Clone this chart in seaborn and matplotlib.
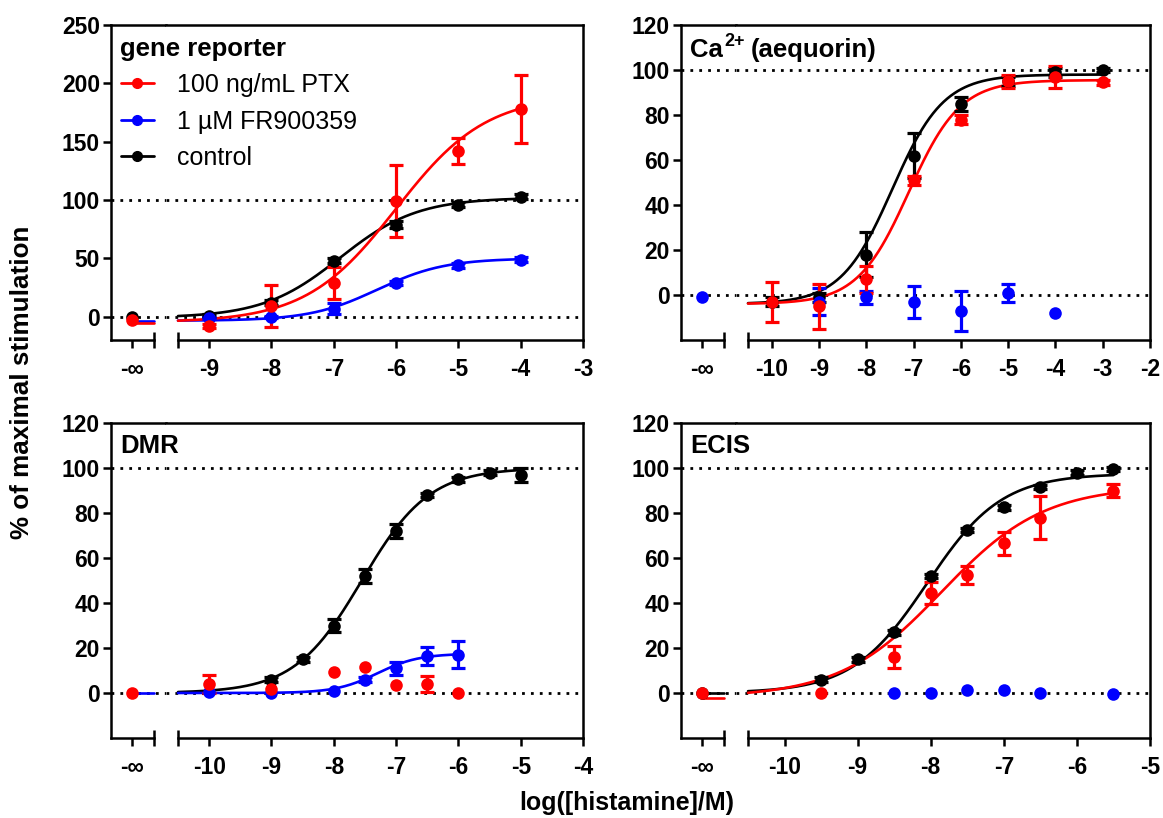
import numpy as np
import pandas as pd
import seaborn as sns
import matplotlib.pyplot as plt
from matplotlib.lines import Line2D

# ---------------- data ----------------
# gene reporter
gr_x = [-9, -8, -7, -6, -5, -4]
gr_ctrl = [1, 12, 48, 79, 96, 103]
gr_ctrl_err = [1, 2, 2, 3, 2, 2]
gr_ptx = [-8, 9, 29, 99, 142, 178]
gr_ptx_err = [2, 18, 14, 31, 11, 29]
gr_fr = [-1, 0, 7, 29, 44, 49]
gr_fr_err = [1, 1, 5, 2, 2, 2]
gr_inf = [0, -3]            # control, PTX at -inf
gr_ctrl_fit = [-1, 102, -6.9, 0.7]     # bottom, top, logEC50, hill
gr_ptx_fit = [-5, 190, -6.0, 0.6]
gr_fr_fit = [-3.5, 50, -6.3, 0.8]

# Ca2+ (aequorin)
ca_x = [-10, -9, -8, -7, -6, -5, -4, -3]
ca_ctrl = [-3, -1, 18, 62, 85, 95, 99, 100]
ca_ctrl_err = [2, 2, 10, 10, 3, 2, 2, 1]
ca_ptx = [-3, -5, 7, 51, 78, 95, 97, 94.5]
ca_ptx_err = [9, 10, 6, 2, 2, 3, 5, 1]
ca_fr_x = [-9, -8, -7, -6, -5, -4]
ca_fr = [-3, -1, -3, -7, 1, -8]
ca_fr_err = [6, 3, 7, 9, 4, 0]
ca_inf = [-1]               # FR at -inf
ca_ctrl_fit = [-4, 98, -7.45, 0.8]
ca_ptx_fit = [-4, 95.5, -7.1, 0.8]

# DMR
dmr_ctrl_x = [-9, -8.5, -8, -7.5, -7, -6.5, -6, -5.5, -5]
dmr_ctrl = [6, 15, 30, 52, 72, 88, 95, 98, 97]
dmr_ctrl_err = [1, 1, 3, 3, 3, 1, 1, 1, 3]
dmr_x = [-10, -9, -8, -7.5, -7, -6.5, -6]
dmr_fr = [0.5, 0, 1, 6, 11, 16.5, 17]
dmr_fr_err = [0, 0, 0, 1, 3, 4, 6]
dmr_ptx = [4, 2, 9.5, 11.5, 3.5, 4, 0]
dmr_ptx_err = [4, 0, 0, 0, 0, 3.5, 0]
dmr_inf = [0]               # PTX at -inf
dmr_ctrl_fit = [0, 100, -7.55, 0.8]
dmr_fr_fit = [0, 17.5, -7.3, 1.3]

# ECIS
ecis_ctrl_x = [-9.5, -9, -8.5, -8, -7.5, -7, -6.5, -6, -5.5]
ecis_ctrl = [6, 15, 27, 52, 72.5, 82.5, 91.5, 98, 99.5]
ecis_ctrl_err = [1, 1, 1, 1, 1, 1, 1, 1, 1]
ecis_ptx_x = [-9.5, -8.5, -8, -7.5, -7, -6.5, -5.5]
ecis_ptx = [0, 16, 44.5, 52.5, 66.5, 78, 90]
ecis_ptx_err = [0, 5, 5, 4, 5, 9.5, 3]
ecis_fr_x = [-8.5, -8, -7.5, -7, -6.5, -5.5]
ecis_fr = [-0.2, 0, 1.5, 1.2, 0, -0.5]
ecis_inf = [0, 0]           # control, PTX at -inf
ecis_ctrl_fit = [0, 97.5, -8.05, 0.85]
ecis_ptx_fit = [-2, 92, -7.85, 0.62]

legend_labels = ['100 ng/mL PTX', '1 µM FR900359', 'control']
titles = ['gene reporter', 'Ca', 'DMR', 'ECIS']

# ---------------- style ----------------
sns.set_theme(style='ticks')
plt.rcParams['font.family'] = ['Liberation Sans', 'DejaVu Sans']
plt.rcParams['font.weight'] = 'bold'
plt.rcParams['text.color'] = 'black'

RED, BLUE, BLACK = '#ff0000', '#0000ff', '#000000'
W, H = 1163, 818
LW_SPINE = 1.8
LW_CURVE = 1.9
DOTTED = (0, (1, 2.2))

fig = plt.figure(figsize=(W / 100, H / 100), dpi=100)


def px_axes(left, right, top, bottom):
    return fig.add_axes([left / W, 1 - bottom / H, (right - left) / W, (bottom - top) / H])


def px_text(x, y, s, **kw):
    return fig.text(x / W, 1 - y / H, s, fontweight='bold', **kw)


def logistic(x, fit):
    bottom, top, ec50, hill = fit
    return bottom + (top - bottom) / (1 + 10 ** ((ec50 - x) * hill))


def draw_panel(L, R, T, B, x0, x1, ylim, yticks, series, title, title_dy):
    gap = L + 55
    ax_inf = px_axes(L, gap, T, B)
    ax = px_axes(gap, R, T, B)
    scale = (R - (L + 67)) / (x1 - x0)
    ax.set_xlim(x0 - 12 / scale, x1)
    ax_inf.set_xlim(0, 55)
    for a in (ax_inf, ax):
        a.set_ylim(ylim)
        a.set_facecolor('white')
        for ref in (0, 100):
            a.axhline(ref, color='black', ls=DOTTED, lw=2.0, zorder=1)
        for sp in a.spines.values():
            sp.set_visible(True)
            sp.set_linewidth(LW_SPINE)
            sp.set_color('black')
            sp.set_zorder(5)
    ax_inf.spines['right'].set_visible(False)
    ax.spines['left'].set_visible(False)
    ax_inf.spines['bottom'].set_bounds(0, 43)
    ax.spines['bottom'].set_bounds(x0, x1)

    # ticks
    ax_inf.set_yticks(yticks)
    ax_inf.set_xticks([21])
    ax_inf.set_xticklabels(['-∞'])
    ax_inf.set_xticks([43], minor=True)
    ticks = np.arange(np.ceil(x0), x1 + 0.1, 1)
    ax.set_xticks(ticks)
    ax.set_xticklabels([f'{int(v)}' for v in ticks])
    ax.set_xticks([x0], minor=True)
    ax.tick_params(axis='y', left=False, labelleft=False)
    for a in (ax_inf, ax):
        a.tick_params(axis='both', which='major', direction='out', length=6,
                      width=LW_SPINE, labelsize=16.5, color='black', labelcolor='black')
        a.tick_params(axis='x', which='major', pad=7)
        a.tick_params(axis='y', which='major', pad=2)
        a.tick_params(axis='x', which='minor', direction='inout', length=12,
                      width=LW_SPINE, color='black')
        a.tick_params(axis='y', which='minor', left=False)

    for color, xs, ys, errs, inf_val, fit, stub in series:
        if fit is not None:
            cx = np.linspace(x0, max(xs), 300)
            curve = pd.DataFrame({'x': cx, 'y': logistic(cx, fit)})
            sns.lineplot(data=curve, x='x', y='y', color=color, lw=LW_CURVE, ax=ax, zorder=2)
            if stub:
                ax_inf.plot([21, 43], [fit[0], fit[0]], color=color, lw=LW_CURVE, zorder=2)
        pts = pd.DataFrame({'x': xs, 'y': ys, 'err': errs})
        eb = pts[pts['err'] > 0]
        if len(eb):
            ax.errorbar(eb['x'], eb['y'], yerr=eb['err'], fmt='none', ecolor=color,
                        elinewidth=2.3, capsize=4.7, capthick=2.3, zorder=3)
        sns.scatterplot(data=pts, x='x', y='y', color=color, s=82, linewidth=0,
                        ax=ax, zorder=4, legend=False)
        if inf_val is not None:
            ax_inf.scatter([21], [inf_val], color=color, s=82, linewidth=0, zorder=4)
    for a in (ax_inf, ax):
        a.set_xlabel('')
        a.set_ylabel('')
    px_text(L + 9, T + title_dy, title, fontsize=18.5, ha='left', va='baseline')
    return ax_inf, ax


draw_panel(111, 583, 25, 340, -9.5, -3, (-20, 250), np.arange(0, 251, 50), [
    (BLACK, gr_x, gr_ctrl, gr_ctrl_err, gr_inf[0], gr_ctrl_fit, False),
    (BLUE, gr_x, gr_fr, gr_fr_err, None, gr_fr_fit, True),
    (RED, gr_x, gr_ptx, gr_ptx_err, gr_inf[1], gr_ptx_fit, True),
], titles[0], 31)

draw_panel(681, 1150, 25, 340, -10.5, -2, (-20, 120), np.arange(0, 121, 20), [
    (BLACK, ca_x, ca_ctrl, ca_ctrl_err, None, ca_ctrl_fit, False),
    (BLUE, ca_fr_x, ca_fr, ca_fr_err, ca_inf[0], None, False),
    (RED, ca_x, ca_ptx, ca_ptx_err, None, ca_ptx_fit, False),
], titles[1], 32)
# superscript charge and the rest of the Ca2+ title
px_text(724, 46, '2+', fontsize=13, ha='left', va='baseline')
px_text(751, 57, '(aequorin)', fontsize=18.5, ha='left', va='baseline')

draw_panel(111, 583, 423, 738, -10.5, -4, (-20, 120), np.arange(0, 121, 20), [
    (BLACK, dmr_ctrl_x, dmr_ctrl, dmr_ctrl_err, None, dmr_ctrl_fit, False),
    (BLUE, dmr_x, dmr_fr, dmr_fr_err, None, dmr_fr_fit, True),
    (RED, dmr_x, dmr_ptx, dmr_ptx_err, dmr_inf[0], None, False),
], titles[2], 30)

draw_panel(681, 1150, 423, 738, -10.5, -5, (-20, 120), np.arange(0, 121, 20), [
    (BLACK, ecis_ctrl_x, ecis_ctrl, ecis_ctrl_err, ecis_inf[0], ecis_ctrl_fit, True),
    (BLUE, ecis_fr_x, ecis_fr, [0] * len(ecis_fr), None, None, False),
    (RED, ecis_ptx_x, ecis_ptx, ecis_ptx_err, ecis_inf[1], ecis_ptx_fit, True),
], titles[3], 30)

# legend in the gene reporter panel
handles = [Line2D([0], [0], color=c, lw=2.0, marker='o', ms=7) for c in (RED, BLUE, BLACK)]
fig.legend(handles, legend_labels, loc='upper left', bbox_to_anchor=(121 / W, 1 - 73 / H),
           frameon=False, borderaxespad=0, borderpad=0, handlelength=1.3,
           handletextpad=0.95, labelspacing=0.5,
           prop={'size': 18, 'weight': 'normal', 'family': 'Liberation Sans'})

px_text(22, 382, '% of maximal stimulation', rotation=90, fontsize=18.7,
        ha='center', va='center')
px_text(627, 803, 'log([histamine]/M)', fontsize=18, ha='center', va='center')

fig.savefig('out.png', dpi=100)
